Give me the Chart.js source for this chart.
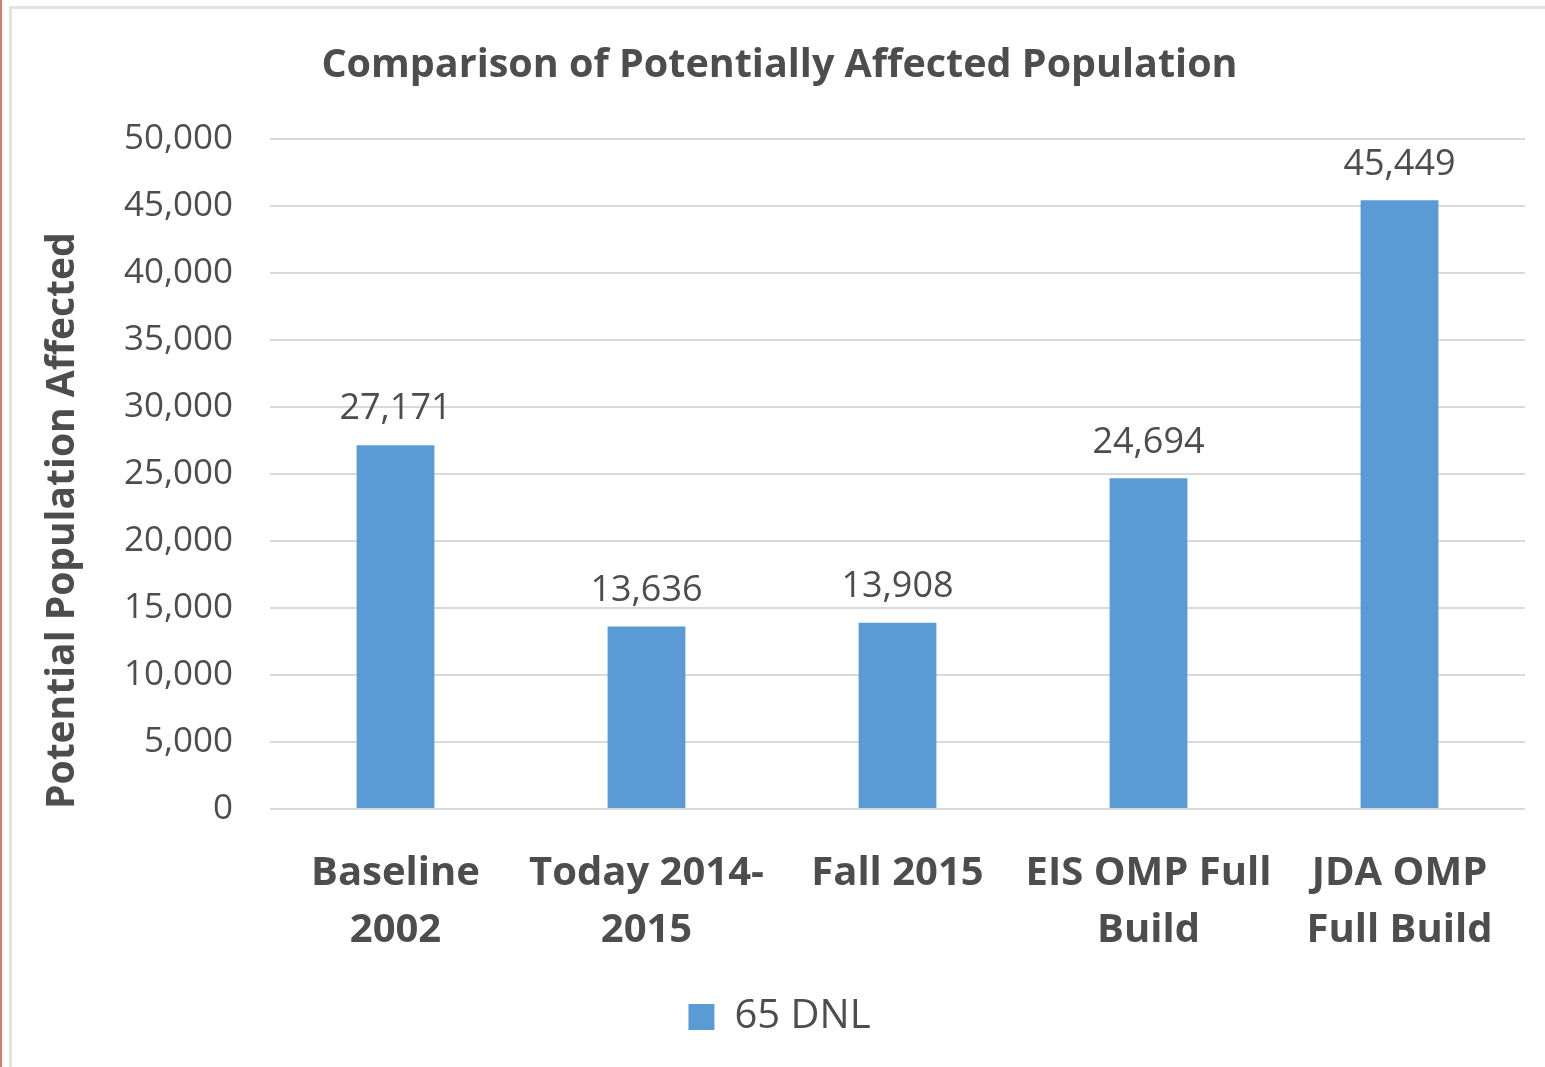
<!DOCTYPE html>
<html>
<head>
<meta charset="utf-8">
<script src="https://cdn.jsdelivr.net/npm/chart.js@4.4.1/dist/chart.umd.min.js"></script>
<style>
  html, body { margin: 0; padding: 0; background: #fff; overflow: hidden; }
  #wrap { position: relative; width: 1545px; height: 1067px; }
  #edge { position: absolute; left: 0; top: 0; width: 2px; height: 1067px; background: #e07a6a; }
  #frame { position: absolute; left: 9px; top: 6px; width: 1560px; height: 1100px;
           border: 3px solid #e3e3e3; box-sizing: border-box; }
  #chart { position: absolute; left: 0; top: 0; }
</style>
</head>
<body>
<div id="wrap">
  <div id="edge"></div>
  <div id="frame"></div>
  <canvas id="chart" width="1545" height="1067"></canvas>
</div>
<script>
const categories = [
  ['Baseline', '2002'],
  ['Today 2014-', '2015'],
  ['Fall 2015'],
  ['EIS OMP Full', 'Build'],
  ['JDA OMP', 'Full Build'],
];
const dnl65 = [27171, 13636, 13908, 24694, 45449];
const seriesName = '65 DNL';

const textColor = '#4d4d4d';
const fontFamily = '"Open Sans", "DejaVu Sans", sans-serif';

// writes the value above each bar
const valueLabels = {
  id: 'valueLabels',
  afterDatasetsDraw(chart) {
    const ctx = chart.ctx;
    const meta = chart.getDatasetMeta(0);
    ctx.save();
    ctx.font = '36px ' + fontFamily;
    ctx.fillStyle = textColor;
    ctx.textAlign = 'center';
    ctx.textBaseline = 'middle';
    meta.data.forEach((bar, i) => {
      const v = chart.data.datasets[0].data[i];
      ctx.fillText(v.toLocaleString('en-US'), bar.x, bar.y - 36);
    });
    ctx.restore();
  },
};

new Chart(document.getElementById('chart'), {
  type: 'bar',
  data: {
    labels: categories,
    datasets: [
      {
        label: seriesName,
        data: dnl65,
        backgroundColor: '#5b9bd5',
        barPercentage: 0.62,
        categoryPercentage: 0.5,
      },
    ],
  },
  options: {
    responsive: false,
    animation: false,
    layout: { padding: { left: 34, right: 20, top: 0, bottom: 20 } },
    plugins: {
      title: {
        display: true,
        text: 'Comparison of Potentially Affected Population',
        color: textColor,
        font: { family: fontFamily, size: 39.5, weight: 'bold' },
        padding: { top: 42, bottom: 50 },
      },
      legend: {
        position: 'bottom',
        labels: {
          color: textColor,
          font: { family: fontFamily, size: 40 },
          boxWidth: 26,
          boxHeight: 26,
        },
      },
      tooltip: { enabled: false },
    },
    scales: {
      x: {
        grid: { display: false },
        border: { display: false },
        ticks: {
          color: textColor,
          font: { family: fontFamily, size: 40, weight: 'bold', lineHeight: 1.42 },
          padding: 28,
          maxRotation: 0,
          autoSkip: false,
        },
        afterFit(scale) { scale.height = 178; },
      },
      y: {
        min: 0,
        max: 50000,
        grid: { color: '#d9d9d9', lineWidth: 2, drawTicks: false },
        border: { display: false },
        ticks: {
          stepSize: 5000,
          color: textColor,
          font: { family: fontFamily, size: 35 },
          padding: 37,
          callback: v => v.toLocaleString('en-US'),
        },
        title: {
          display: true,
          text: 'Potential Population Affected',
          align: 'start',
          color: textColor,
          font: { family: fontFamily, size: 39, weight: 'bold' },
          padding: { top: 5, bottom: 0 },
        },
        afterFit(scale) { scale.width = 236; },
      },
    },
  },
  plugins: [valueLabels],
});
</script>
</body>
</html>
